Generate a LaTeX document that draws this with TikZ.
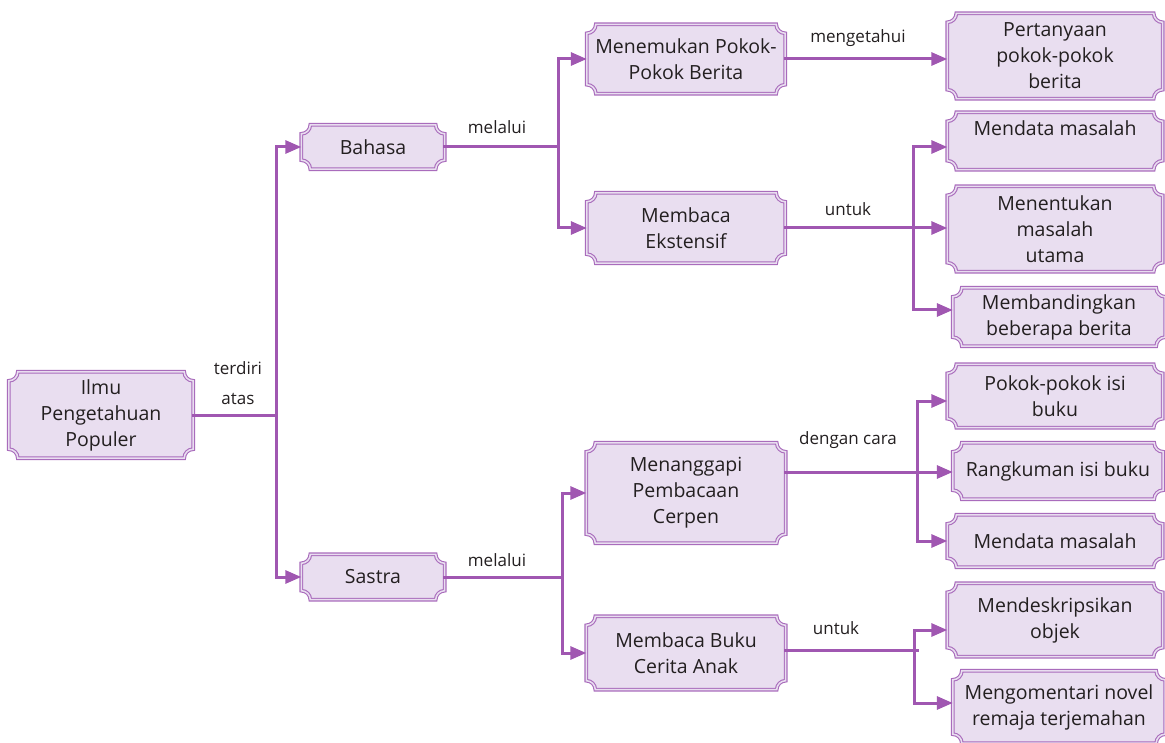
\documentclass[tikz,border=0pt]{standalone}
\usepackage{fontspec}
\setmainfont{Open Sans}
\usetikzlibrary{arrows.meta,backgrounds,calc}
\definecolor{pline}{HTML}{A057B1}
\definecolor{pborder}{HTML}{A96CBC}
\definecolor{pfill}{HTML}{E9DEF0}
\definecolor{ptext}{HTML}{231F20}
\tikzset{
 box/.style={inner sep=0pt, align=center, text=ptext, font=\fontsize{19.5}{26}\selectfont},
 lbl/.style={inner sep=0pt, text=ptext, font=\fontsize{17}{20}\selectfont},
 conn/.style={draw=pline, line width=3pt, line cap=rect},
 arr/.style={conn, -{Triangle[length=16pt,width=13pt]}},
 plaq/.style={fill=pfill, draw=pborder, double=pfill, double distance=1.5pt, line width=1.1pt},
}
\newcommand\bx[6]{\node[box, minimum width=#4pt, minimum height=#5pt] (#1) at (#2,-#3) {#6};}
\newcommand\plaque[1]{%
 \path[plaq] let \p1=(#1.south west), \p2=(#1.north east) in
 (\x1,\y1+9pt) -- (\x1,\y2-9pt) arc[start angle=270,end angle=360,radius=9pt]
 -- (\x2-9pt,\y2) arc[start angle=180,end angle=270,radius=9pt]
 -- (\x2,\y1+9pt) arc[start angle=90,end angle=180,radius=9pt]
 -- (\x1+9pt,\y1) arc[start angle=0,end angle=90,radius=9pt] -- cycle;}
\begin{document}
\begin{tikzpicture}[x=1pt,y=1pt]
\useasboundingbox (0,0) rectangle (1165,-743);
\bx{ilmu}{101}{415}{184}{86}{Ilmu\\Pengetahuan\\Populer}
\bx{bahasa}{373}{147}{143}{44}{Bahasa}
\bx{sastra}{373}{577}{143}{45}{Sastra}
\bx{menemukan}{686}{59}{198}{69}{Menemukan Pokok-\\Pokok Berita}
\bx{ekstensif}{686}{228}{198}{70}{Membaca\\Ekstensif}
\bx{menanggapi}{686}{493}{199}{100}{Menanggapi\\Pembacaan\\Cerpen}
\bx{buku}{686}{653}{199}{73}{Membaca Buku\\Cerita Anak}
\bx{pertanyaan}{1055}{56}{215}{85}{Pertanyaan\\pokok-pokok\\berita}
\bx{mendataA}{1055}{141}{215}{57}{Mendata masalah\\\mbox{}}
\bx{menentukan}{1055}{229}{215}{85}{Menentukan\\masalah\\utama}
\bx{membandingkan}{1059}{317}{212}{58}{Membandingkan\\beberapa berita}
\bx{pokok}{1055}{396}{215}{63}{Pokok-pokok isi\\buku}
\bx{rangkuman}{1058}{471}{210}{56}{Rangkuman isi buku}
\bx{mendataB}{1055}{541}{215}{52}{Mendata masalah}
\bx{mendeskripsikan}{1055}{620}{215}{73}{Mendeskripsikan\\objek}
\bx{mengomentari}{1059}{707}{212}{72}{Mengomentari novel\\remaja terjemahan}
\begin{scope}[on background layer]
\fill[white] (0,0) rectangle (1165,-743);
\foreach \nm in {ilmu,bahasa,sastra,menemukan,ekstensif,menanggapi,buku,pertanyaan,mendataA,menentukan,membandingkan,pokok,rangkuman,mendataB,mendeskripsikan,mengomentari}{\plaque{\nm}}
\end{scope}
% level 1
\coordinate (j1) at (276,-415);
\draw[conn] (ilmu.east) -- (j1);
\draw[arr] (j1) |- (bahasa.west);
\draw[arr] (j1) |- (sastra.west);
% bahasa
\coordinate (j2) at (558,-147);
\draw[conn] (bahasa.east) -- (j2);
\draw[arr] (j2) |- (menemukan.west);
\draw[arr] (j2) |- (ekstensif.west);
% sastra
\coordinate (j3) at (562,-577);
\draw[conn] (sastra.east) -- (j3);
\draw[arr] (j3) |- (menanggapi.west);
\draw[arr] (j3) |- (buku.west);
% menemukan
\draw[arr] (menemukan.east) -- (pertanyaan.west |- menemukan.east);
% ekstensif
\draw[arr] (ekstensif.east) -- (menentukan.west |- ekstensif.east);
\coordinate (k1) at (913,-147);
\coordinate (k2) at (913,-310);
\draw[conn] (k1) -- (k2);
\draw[arr] (k1) -- (mendataA.west |- k1);
\draw[arr] (k2) -- (membandingkan.west |- k2);
% menanggapi
\coordinate (m1) at (917,-472);
\coordinate (m2) at (917,-401);
\coordinate (m3) at (917,-541);
\draw[arr] (menanggapi.east |- m1) -- (rangkuman.west |- m1);
\draw[conn] (m2) -- (m3);
\draw[arr] (m2) -- (pokok.west |- m2);
\draw[arr] (m3) -- (mendataB.west |- m3);
% buku
\coordinate (b1) at (917,-650);
\coordinate (b2) at (914,-630);
\coordinate (b3) at (914,-703);
\draw[conn] (buku.east |- b1) -- (b1);
\draw[conn] (b2) -- (b3);
\draw[arr] (b2) -- (mendeskripsikan.west |- b2);
\draw[arr] (b3) -- (mengomentari.west |- b3);
% labels
\node[lbl, align=center] (lterdiri) at (238,-383) {terdiri\\[10pt]atas};
\node[lbl] (lmel1) at (497,-127) {melalui};
\node[lbl] (lmel2) at (497,-560) {melalui};
\node[lbl] (lmeng) at (858,-38) {mengetahui};
\node[lbl] (lunt1) at (848,-209) {untuk};
\node[lbl] (ldc) at (848,-440) {dengan cara};
\node[lbl] (lunt2) at (836,-628) {untuk};
\end{tikzpicture}
\end{document}
